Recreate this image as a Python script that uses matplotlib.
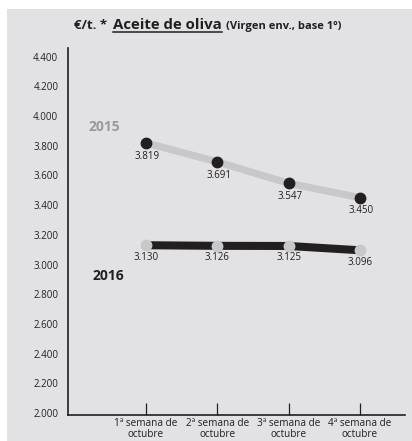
import matplotlib
matplotlib.use("Agg")

import matplotlib.pyplot as plt
from matplotlib.lines import Line2D
from matplotlib.patches import Rectangle

# ------------------------------------------------------------
# data (€/t., virgen envasado, base 1º)
# ------------------------------------------------------------
weeks = ["1ª semana de\noctubre", "2ª semana de\noctubre",
         "3ª semana de\noctubre", "4ª semana de\noctubre"]
price_2015 = [3819, 3691, 3547, 3450]
price_2016 = [3130, 3126, 3125, 3096]
y_ticks = [2000, 2200, 2400, 2600, 2800, 3000, 3200, 3400,
           3600, 3800, 4000, 4200, 4400]

BG = "#e2e2e4"
DARK = "#231f20"
LIGHT = "#c8c8ca"
FONT = "Open Sans"


def fmt(v):
    return f"{v:,.0f}".replace(",", ".")


def main() -> None:
    plt.rcParams["font.family"] = [FONT, "DejaVu Sans"]

    W, H = 412, 441
    fig = plt.figure(figsize=(W / 100, H / 100), dpi=100)
    fig.patch.set_facecolor("white")
    fig.patches.append(Rectangle((7 / W, 0), 1, (H - 9) / H,
                                 transform=fig.transFigure,
                                 facecolor=BG, edgecolor="none", zorder=-10))

    ax = fig.add_axes([68 / W, 26 / H, (405 - 68) / W, (415 - 48) / H])
    ax.set_facecolor("none")

    x = list(range(len(weeks)))

    # 2015: grey line, black dots
    ax.plot(x, price_2015, color=LIGHT, linewidth=5.2,
            solid_capstyle="butt", zorder=2)
    ax.plot(x, price_2015, linestyle="none", marker="o", markersize=7.5,
            color=DARK, zorder=3)

    # 2016: black line, grey dots
    ax.plot(x, price_2016, color=DARK, linewidth=5.8,
            solid_capstyle="butt", zorder=2)
    ax.plot(x, price_2016, linestyle="none", marker="o", markersize=7.5,
            color=LIGHT, zorder=3)

    for xi, v in zip(x, price_2015):
        ax.annotate(fmt(v), (xi, v), xytext=(1, -9.5), textcoords="offset points",
                    ha="center", va="center", fontsize=7, color=DARK)
    for xi, v in zip(x, price_2016):
        ax.annotate(fmt(v), (xi, v), xytext=(0, -8.5), textcoords="offset points",
                    ha="center", va="center", fontsize=7, color=DARK)

    ax.text(-0.59, 3926, "2015", ha="center", va="center", fontsize=10,
            fontweight="bold", color="#9a9a9c")
    ax.text(-0.53, 2922, "2016", ha="center", va="center", fontsize=10,
            fontweight="bold", color=DARK)

    ax.set_xlim(-1.094, 3.63)
    ax.set_ylim(1987, 4458)

    ax.set_yticks(y_ticks)
    ax.set_yticklabels([fmt(v) for v in y_ticks])
    ax.set_xticks(x)
    ax.set_xticklabels(weeks, linespacing=0.9)

    ax.tick_params(axis="y", length=0, pad=7, labelsize=7, labelcolor=DARK)
    ax.tick_params(axis="x", direction="in", length=8.5, width=0.9,
                   color=DARK, pad=2.5, labelsize=7.2, labelcolor=DARK)

    for side in ("top", "right"):
        ax.spines[side].set_visible(False)
    for side in ("left", "bottom"):
        ax.spines[side].set_color(DARK)
        ax.spines[side].set_linewidth(1.2)

    # title pieces laid out side by side
    ty = 1 - 29 / H
    t1 = fig.text(74 / W, ty, "€/t. *", fontsize=9.5, fontweight="bold",
                  color=DARK, va="baseline")
    fig.canvas.draw()
    r = fig.canvas.get_renderer()
    bb = t1.get_window_extent(r)
    t2 = fig.text((bb.x1 + 6) / W, ty, "Aceite de oliva", fontsize=10.8,
                  fontweight="bold", color=DARK, va="baseline")
    bb2 = t2.get_window_extent(r)
    fig.text((bb2.x1 + 4) / W, ty, "(Virgen env., base 1º)", fontsize=8,
             fontweight="bold", color=DARK, va="baseline")
    uy = ty - 3 / H
    fig.add_artist(Line2D([bb2.x0 / W, bb2.x1 / W], [uy, uy],
                          transform=fig.transFigure, color=DARK, linewidth=1.1))

    fig.savefig("out.png", dpi=100)


if __name__ == "__main__":
    main()
